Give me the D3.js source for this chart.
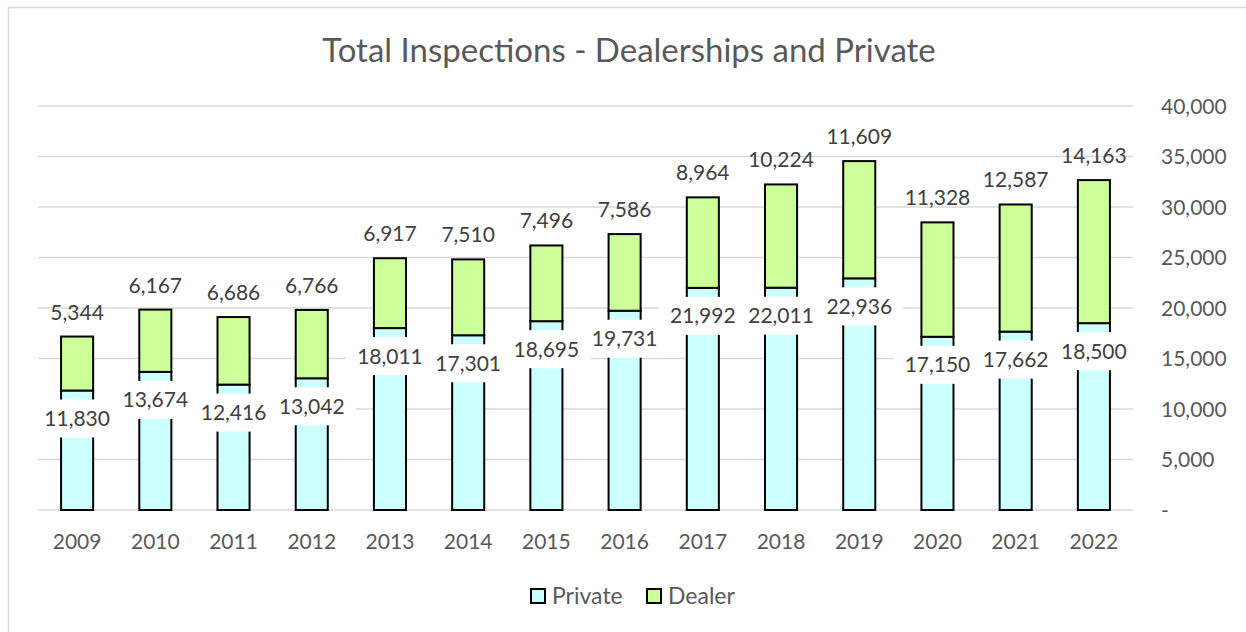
<!DOCTYPE html>
<html>
<head>
<meta charset="utf-8">
<script src="https://cdn.jsdelivr.net/npm/d3@7"></script>
<style>
  body { margin: 0; background: #fff; }
  text { font-family: Lato, "Open Sans", sans-serif; }
</style>
</head>
<body>
<div id="chart"></div>
<script>
var years = ["2009", "2010", "2011", "2012", "2013", "2014", "2015", "2016", "2017", "2018", "2019", "2020", "2021", "2022"];
var privateVals = [11830, 13674, 12416, 13042, 18011, 17301, 18695, 19731, 21992, 22011, 22936, 17150, 17662, 18500];
var dealerVals = [5344, 6167, 6686, 6766, 6917, 7510, 7496, 7586, 8964, 10224, 11609, 11328, 12587, 14163];
var yTicks = [0, 5000, 10000, 15000, 20000, 25000, 30000, 35000, 40000];

var width = 1246, height = 632;

var svg = d3.select("#chart").append("svg")
    .attr("width", width)
    .attr("height", height);

// chart frame (only top and left edges visible in the picture)
svg.append("path")
    .attr("d", "M8.5," + (height + 5) + " L8.5,7.5 L" + (width + 5) + ",7.5")
    .attr("fill", "none")
    .attr("stroke", "#d9d9d9")
    .attr("stroke-width", 1.5);

svg.append("text")
    .attr("x", 629)
    .attr("y", 62)
    .attr("text-anchor", "middle")
    .style("font-size", "33px")
    .style("fill", "#595959")
    .text("Total Inspections - Dealerships and Private");

var x = d3.scaleBand().domain(years).range([38, 1133])
    .paddingInner(0.59).paddingOuter(0.295);
var y = d3.scaleLinear().domain([0, 40000]).range([510, 106]);

// gridlines
svg.append("g").selectAll("line")
    .data(yTicks)
    .enter().append("line")
    .attr("x1", 38).attr("x2", 1133)
    .attr("y1", function(d) { return y(d); })
    .attr("y2", function(d) { return y(d); })
    .attr("stroke", "#d9d9d9")
    .attr("stroke-width", 1.5);

// right axis labels
var fmt = d3.format(",");
svg.append("g").selectAll("text")
    .data(yTicks)
    .enter().append("text")
    .attr("x", 1161)
    .attr("y", function(d) { return y(d) + 7.5; })
    .style("font-size", "21px")
    .style("fill", "#595959")
    .text(function(d) { return d === 0 ? "-" : fmt(d); });

// x labels
svg.append("g").selectAll("text")
    .data(years)
    .enter().append("text")
    .attr("x", function(d) { return x(d) + x.bandwidth() / 2; })
    .attr("y", 549)
    .attr("text-anchor", "middle")
    .style("font-size", "21px")
    .style("fill", "#595959")
    .text(function(d) { return d; });

var rows = years.map(function(yr, i) {
    return {year: yr, priv: privateVals[i], dealer: dealerVals[i]};
});

// stacked bars
var bars = svg.append("g");
bars.selectAll("rect.priv")
    .data(rows)
    .enter().append("rect")
    .attr("class", "priv")
    .attr("x", function(d) { return x(d.year); })
    .attr("y", function(d) { return y(d.priv); })
    .attr("width", x.bandwidth())
    .attr("height", function(d) { return y(0) - y(d.priv); })
    .attr("fill", "#ccffff")
    .attr("stroke", "#000")
    .attr("stroke-width", 2);

bars.selectAll("rect.dealer")
    .data(rows)
    .enter().append("rect")
    .attr("class", "dealer")
    .attr("x", function(d) { return x(d.year); })
    .attr("y", function(d) { return y(d.priv + d.dealer); })
    .attr("width", x.bandwidth())
    .attr("height", function(d) { return y(d.priv) - y(d.priv + d.dealer); })
    .attr("fill", "#ccff99")
    .attr("stroke", "#000")
    .attr("stroke-width", 2);

// private labels with white boxes
var plab = svg.append("g").selectAll("g")
    .data(rows)
    .enter().append("g")
    .attr("transform", function(d) {
        return "translate(" + (x(d.year) + x.bandwidth() / 2) + "," + (y(d.priv) + 28) + ")";
    });
plab.append("rect")
    .attr("x", -44).attr("y", -19)
    .attr("width", 88).attr("height", 38)
    .attr("fill", "#fff");
plab.append("text")
    .attr("y", 7.5)
    .attr("text-anchor", "middle")
    .style("font-size", "21px")
    .style("fill", "#404040")
    .text(function(d) { return fmt(d.priv); });

// dealer labels
svg.append("g").selectAll("text")
    .data(rows)
    .enter().append("text")
    .attr("x", function(d) { return x(d.year) + x.bandwidth() / 2; })
    .attr("y", function(d) { return y(d.priv + d.dealer) - 17; })
    .attr("text-anchor", "middle")
    .style("font-size", "21px")
    .style("fill", "#404040")
    .text(function(d) { return fmt(d.dealer); });

// legend
var legend = [
    {name: "Private", color: "#ccffff", x: 531},
    {name: "Dealer", color: "#ccff99", x: 647}
];
var lg = svg.append("g").selectAll("g")
    .data(legend)
    .enter().append("g")
    .attr("transform", function(d) { return "translate(" + d.x + ",589)"; });
lg.append("rect")
    .attr("width", 14).attr("height", 14)
    .attr("fill", function(d) { return d.color; })
    .attr("stroke", "#000")
    .attr("stroke-width", 2);
lg.append("text")
    .attr("x", 21)
    .attr("y", 15)
    .style("font-size", "23px")
    .style("fill", "#595959")
    .text(function(d) { return d.name; });
</script>
</body>
</html>
